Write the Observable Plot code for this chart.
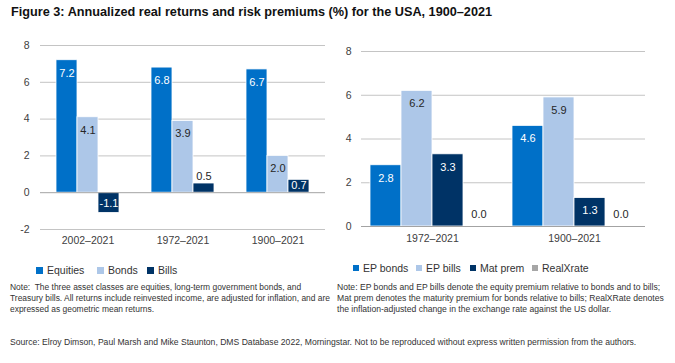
<!DOCTYPE html>
<html>
<head>
<meta charset="utf-8">
<script src="https://cdn.jsdelivr.net/npm/d3@7"></script>
<script src="https://cdn.jsdelivr.net/npm/@observablehq/plot@0.6"></script>
<style>
  html, body { margin: 0; padding: 0; background: #fff; }
  #page { position: relative; width: 675px; height: 363px; overflow: hidden; font-family: "Liberation Sans", Arial, sans-serif; color: #262626; }
  #title { position: absolute; left: 11px; top: 5px; font-size: 12.7px; font-weight: bold; color: #111; white-space: nowrap; }
  #left { position: absolute; left: 0; top: 30px; }
  #right { position: absolute; left: 335px; top: 30px; }
  .legend { position: absolute; font-size: 10.5px; white-space: nowrap; color: #333; }
  .legend span.item { position: absolute; top: 0; }
  .legend i { display: inline-block; vertical-align: middle; margin-right: 4px; position: relative; top: -1px; }
  .note { position: absolute; font-size: 8.6px; line-height: 11px; color: #333; }
  #source { position: absolute; left: 10px; top: 337px; font-size: 8.6px; color: #333; white-space: nowrap; }
</style>
</head>
<body>
<div id="page">
  <div id="title">Figure 3: Annualized real returns and risk premiums (%) for the USA, 1900–2021</div>
  <div id="left"></div>
  <div id="right"></div>
  <div class="legend" id="legL" style="left:0;top:264px;width:335px;height:14px;"></div>
  <div class="legend" id="legR" style="left:335px;top:262px;width:340px;height:14px;"></div>
  <div class="note" style="left:10px;top:282px;width:326px;font-size:8.45px;">Note:&nbsp; The three asset classes are equities, long-term government bonds, and Treasury bills. All returns include reinvested income, are adjusted for inflation, and are expressed as geometric mean returns.</div>
  <div class="note" style="left:337px;top:282px;width:330px;">Note: EP bonds and EP bills denote the equity premium relative to bonds and to bills; Mat prem denotes the maturity premium for bonds relative to bills; RealXRate denotes the inflation-adjusted change in the exchange rate against the US dollar.</div>
  <div id="source">Source: Elroy Dimson, Paul Marsh and Mike Staunton, DMS Database 2022, Morningstar. Not to be reproduced without express written permission from the authors.</div>
</div>
<script>
// ---- Data ----
const leftCategories = ["2002–2021", "1972–2021", "1900–2021"];
const leftSeries = ["Equities", "Bonds", "Bills"];
const equities = [7.2, 6.8, 6.7];
const bonds = [4.1, 3.9, 2.0];
const bills = [-1.1, 0.5, 0.7];
const leftTicks = [-2, 0, 2, 4, 6, 8];

const rightCategories = ["1972–2021", "1900–2021"];
const rightSeries = ["EP bonds", "EP bills", "Mat prem", "RealXrate"];
const epBonds = [2.8, 4.6];
const epBills = [6.2, 5.9];
const matPrem = [3.3, 1.3];
const realXrate = [0.0, 0.0];
const rightTicks = [0, 2, 4, 6, 8];

// ---- Styles ----
const leftColors = ["#0070C8", "#ADC7E8", "#003366"];
const rightColors = ["#0070C8", "#ADC7E8", "#003366", "#A6A6A6"];
const darkOnLight = new Set(["Bonds", "EP bills", "RealXrate"]);
const FONT = "Liberation Sans, Arial, sans-serif";

function toRows(cats, series, values) {
  const rows = [];
  cats.forEach((c, i) => series.forEach((s, j) => rows.push({category: c, series: s, value: values[j][i]})));
  return rows;
}

function buildChart({rows, cats, series, colors, ticks, domain, width, height, margins, xPadOuter, tickPadY, tickPadFx}) {
  const [mt, mr, mb, ml] = margins;
  const k = (height - mt - mb) / (domain[1] - domain[0]); // px per unit
  // label placement (Excel "inside end", outside when the bar is too short)
  rows.forEach(d => {
    const h = Math.abs(d.value) * k;
    let off, inside;
    if (d.value === 0) { off = -12; inside = false; }
    else if (h < 12) { off = -7; inside = false; }
    else { off = Math.min(13, h * 0.45); inside = true; }
    const sign = d.value < 0 ? -1 : 1;
    d.ly = d.value - sign * off / k;
    d.light = inside && !darkOnLight.has(d.series);
  });
  return Plot.plot({
    width, height,
    marginTop: mt, marginRight: mr, marginBottom: mb, marginLeft: ml,
    style: {fontFamily: FONT, fontSize: "10.5px", color: "#404040", background: "transparent"},
    fx: {domain: cats, axis: "bottom", label: null, tickSize: 0, tickPadding: tickPadFx, paddingInner: 0, paddingOuter: 0},
    x: {domain: series, axis: null, paddingInner: 0, paddingOuter: xPadOuter},
    y: {domain, ticks, tickSize: 0, tickPadding: tickPadY, label: null, tickFormat: d => String(d)},
    color: {domain: series, range: colors},
    facet: {data: rows, x: "category"},
    marks: [
      Plot.ruleY(ticks.filter(t => t !== 0), {stroke: "#C4C4C4", strokeWidth: 1}),
      Plot.barY(rows, {x: "series", y: "value", fill: "series", stroke: "white", strokeWidth: 0.8}),
      Plot.ruleY([0], {stroke: "#A3A3A3", strokeWidth: 1}),
      Plot.text(rows, {filter: d => d.light, x: "series", y: "ly", text: d => d.value.toFixed(1), fill: "white", fontSize: 11}),
      Plot.text(rows, {filter: d => !d.light, x: "series", y: "ly", text: d => d.value.toFixed(1), fill: "#262626", fontSize: 11})
    ]
  });
}

const leftRows = toRows(leftCategories, leftSeries, [equities, bonds, bills]);
const rightRows = toRows(rightCategories, rightSeries, [epBonds, epBills, matPrem, realXrate]);

document.getElementById("left").append(buildChart({
  rows: leftRows, cats: leftCategories, series: leftSeries, colors: leftColors,
  ticks: leftTicks, domain: [-2, 8], width: 335, height: 230,
  margins: [15, 10, 31, 39], xPadOuter: 0.734, tickPadY: 11, tickPadFx: 7
}));
document.getElementById("right").append(buildChart({
  rows: rightRows, cats: rightCategories, series: rightSeries, colors: rightColors,
  ticks: rightTicks, domain: [0, 8], width: 340, height: 230,
  margins: [21, 30, 34, 26], xPadOuter: 0.219, tickPadY: 10, tickPadFx: 8.5
}));

// ---- Legends ----
function legend(el, series, colors, xs, size) {
  series.forEach((s, i) => {
    const it = document.createElement("span");
    it.className = "item";
    it.style.left = xs[i] + "px";
    const sw = document.createElement("i");
    sw.style.width = size + "px"; sw.style.height = size + "px"; sw.style.background = colors[i];
    it.append(sw, document.createTextNode(s));
    el.append(it);
  });
}
legend(document.getElementById("legL"), leftSeries, leftColors, [36, 97, 147], 7);
legend(document.getElementById("legR"), rightSeries, rightColors, [18, 81, 135, 197], 6);
</script>
</body>
</html>
